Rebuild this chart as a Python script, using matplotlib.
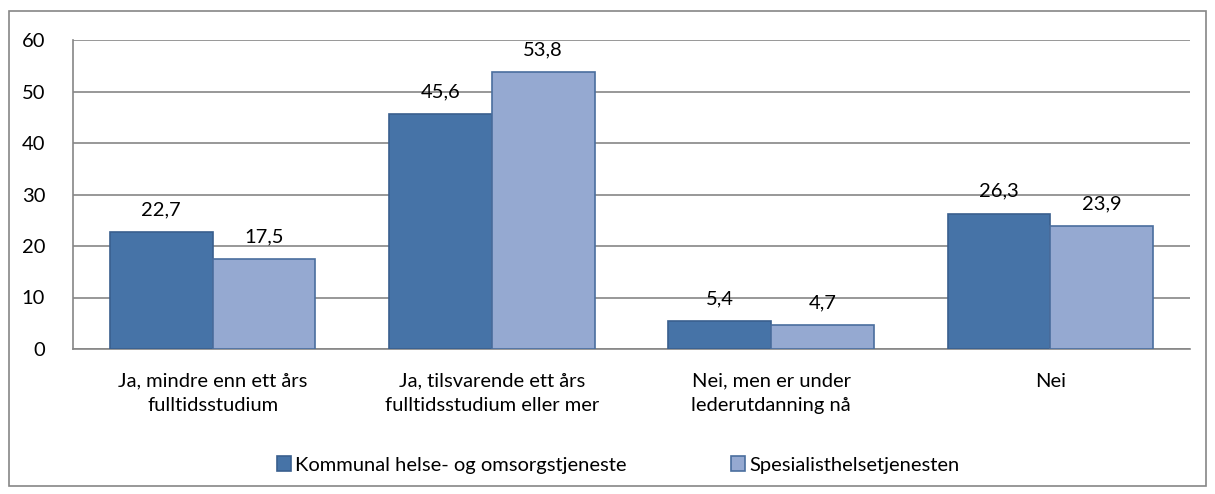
import matplotlib
matplotlib.use("Agg")
import matplotlib.pyplot as plt
import numpy as np
from matplotlib.patches import Rectangle

categories = ["Ja, mindre enn ett års\nfulltidsstudium",
              "Ja, tilsvarende ett års\nfulltidsstudium eller mer",
              "Nei, men er under\nlederutdanning nå",
              "Nei"]
series_names = ["Kommunal helse- og omsorgstjeneste", "Spesialisthelsetjenesten"]
kommunal = [22.7, 45.6, 5.4, 26.3]
spesialist = [17.5, 53.8, 4.7, 23.9]
yticks = [0, 10, 20, 30, 40, 50, 60]

plt.rcParams['font.family'] = ['Lato', 'DejaVu Sans']
fs = 14.5

fig = plt.figure(figsize=(12.15, 4.94), dpi=100)
ax = fig.add_axes([73/1215, 1-349/494, (1190-73)/1215, (349-40)/494])

x = np.arange(len(categories))
w = 0.368
c1, c2 = "#4673A7", "#95A9D1"
e1, e2 = "#395F8E", "#4A6E9E"
b1 = ax.bar(x - w/2, kommunal, w, color=c1, edgecolor=e1, linewidth=1.2, label=series_names[0], zorder=3)
b2 = ax.bar(x + w/2, spesialist, w, color=c2, edgecolor=e2, linewidth=1.2, label=series_names[1], zorder=3)

for bars, vals in ((b1, kommunal), (b2, spesialist)):
    for b, v in zip(bars, vals):
        ax.annotate(f"{v:.1f}".replace(".", ","), (b.get_x() + b.get_width()/2, v),
                    xytext=(0, 10), textcoords="offset points", ha="center", va="bottom",
                    fontsize=fs, color="black")

ax.set_xlim(-0.5, len(categories) - 0.5)
ax.set_ylim(0, 60)
ax.set_yticks(yticks)
ax.set_yticklabels([str(t) for t in yticks], fontsize=fs)
ax.set_xticks(x)
ax.set_xticklabels(categories, fontsize=fs, linespacing=1.5)
ax.grid(axis="y", color="#868686", linewidth=1.2, zorder=0)
ax.tick_params(axis="y", length=0, pad=20)
ax.tick_params(axis="x", length=0, pad=17)
for s in ["top", "right"]:
    ax.spines[s].set_visible(False)
ax.spines["left"].set_color("#868686")
ax.spines["bottom"].set_color("#868686")
ax.spines["left"].set_linewidth(1.2)
ax.spines["bottom"].set_linewidth(1.2)

leg = fig.legend(handles=[b1, b2], labels=series_names, loc="center", bbox_to_anchor=(618/1215, 1-465/494),
                 ncol=2, frameon=False, fontsize=fs, handlelength=0.7, handleheight=0.7,
                 handletextpad=0.2, columnspacing=5.2)

fig.patches.append(Rectangle((9/1215, 1-486/494), (1206-9)/1215, (486-11)/494,
                             transform=fig.transFigure, fill=False, edgecolor="#868686", linewidth=1.2))

fig.savefig("out.png", dpi=100)
